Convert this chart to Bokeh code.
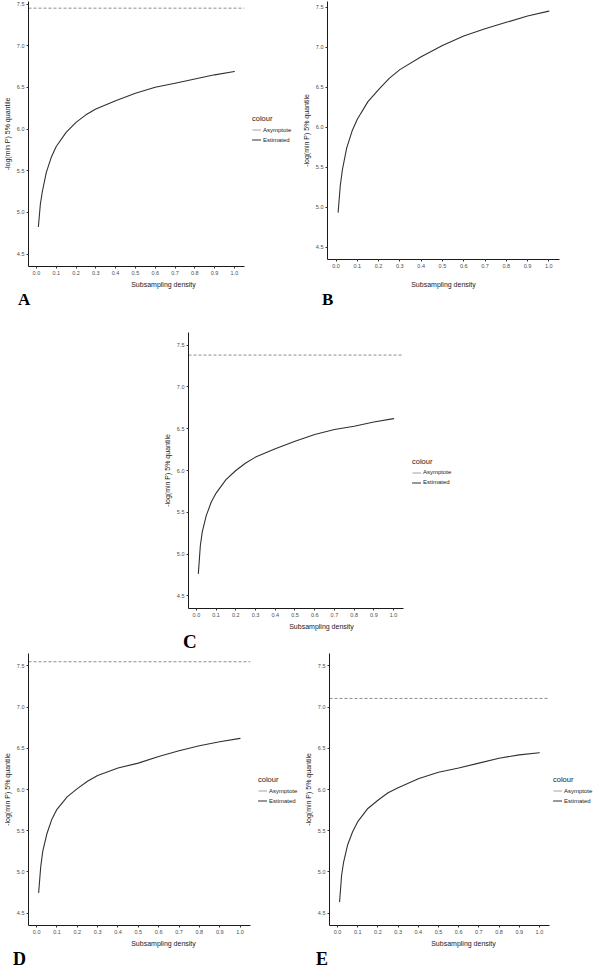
from bokeh.plotting import figure
from bokeh.models import (Range1d, FixedTicker, PrintfTickFormatter, Legend, LegendItem,
                          Div, Row, Column, Spacer)
from bokeh.embed import file_html
from bokeh.resources import INLINE

# ---------------- data ----------------
density = [0.01, 0.02, 0.03, 0.05, 0.075, 0.1, 0.15, 0.2, 0.25, 0.3,
           0.4, 0.5, 0.6, 0.7, 0.8, 0.9, 1.0]

estimated_A = [4.83, 5.10, 5.25, 5.48, 5.66, 5.79, 5.96, 6.08, 6.17, 6.24,
               6.34, 6.43, 6.50, 6.55, 6.60, 6.65, 6.69]
estimated_B = [4.94, 5.27, 5.47, 5.74, 5.95, 6.10, 6.32, 6.47, 6.61, 6.72,
               6.88, 7.02, 7.14, 7.23, 7.31, 7.39, 7.45]
estimated_C = [4.77, 5.10, 5.27, 5.46, 5.62, 5.73, 5.89, 6.00, 6.09, 6.16,
               6.26, 6.35, 6.43, 6.49, 6.53, 6.58, 6.62]
estimated_D = [4.75, 5.06, 5.25, 5.46, 5.64, 5.76, 5.91, 6.01, 6.10, 6.17,
               6.26, 6.32, 6.40, 6.47, 6.53, 6.58, 6.62]
estimated_E = [4.64, 4.96, 5.12, 5.33, 5.49, 5.61, 5.77, 5.87, 5.96, 6.02,
               6.13, 6.21, 6.26, 6.32, 6.38, 6.42, 6.445]

asymptote_A = 7.45
asymptote_B = None          # lies above the visible range
asymptote_C = 7.38
asymptote_D = 7.55
asymptote_E = 7.105

panel_letters = ["A", "B", "C", "D", "E"]
x_ticks = [0.0, 0.1, 0.2, 0.3, 0.4, 0.5, 0.6, 0.7, 0.8, 0.9, 1.0]
y_ticks = [4.5, 5.0, 5.5, 6.0, 6.5, 7.0, 7.5]
legend_title = "colour"
legend_labels = ["Asymptote", "Estimated"]
x_title = "Subsampling density"
y_title = "-log(min P) 5% quantile"

# ---------------- styling ----------------
EST_COLOR = "#303030"
ASY_COLOR = "#8c8c8c"
X_LO, X_HI = -0.04, 1.05   # axis limits (ggplot-like expansion)
Y_LO = 4.35
NAN = float("nan")


def make_panel(est, asym, width, height, left, axis_end, top, bottom_border,
               y_top, legend=True, xlabel_standoff=3, legend_gap=5, legend_dy=0):
    # with a legend the frame is widened to the figure's right edge (so the legend
    # is inside the frame) and the x axis line is limited to the data limits
    if legend:
        frame_right = width - 1
        x_end = X_LO + (frame_right - left) / (axis_end - left) * (X_HI - X_LO)
        mb_right = 1
    else:
        x_end = X_HI
        mb_right = width - axis_end
    p = figure(width=width, height=height, output_backend="svg", toolbar_location=None,
               title=None,
               x_range=Range1d(X_LO, x_end), y_range=Range1d(Y_LO, y_top),
               min_border_left=left, min_border_right=mb_right,
               min_border_top=top, min_border_bottom=bottom_border,
               background_fill_color="white", border_fill_color="white")
    p.outline_line_color = None
    p.xgrid.visible = False
    p.ygrid.visible = False

    for ax, ticks in ((p.xaxis[0], x_ticks), (p.yaxis[0], y_ticks)):
        ax.ticker = FixedTicker(ticks=ticks)
        ax.formatter = PrintfTickFormatter(format="%.1f")
        ax.major_label_text_font = "Liberation Sans"
        ax.major_label_text_font_size = "5.5px"
        ax.major_label_text_color = "#4d4d4d"
        ax.major_label_standoff = 2
        ax.major_tick_out = 2
        ax.major_tick_in = 0
        ax.minor_tick_out = 0
        ax.minor_tick_in = 0
        ax.axis_line_color = "#1a1a1a"
        ax.axis_line_width = 1
        ax.major_tick_line_color = "#333333"
        ax.axis_label_text_font = "Liberation Sans"
        ax.axis_label_text_font_size = "7px"
        ax.axis_label_text_font_style = "normal"
        ax.axis_label_text_color = "#1a1a1a"
    p.xaxis[0].axis_label = x_title
    p.xaxis[0].axis_label_standoff = xlabel_standoff
    p.xaxis[0].bounds = (X_LO, X_HI)
    p.yaxis[0].axis_label = y_title
    p.yaxis[0].axis_label_standoff = 3

    if asym is not None:
        p.segment(x0=[X_LO], x1=[X_HI], y0=[asym], y1=[asym], line_color=ASY_COLOR,
                  line_width=1, line_dash="3 2")

    r_est = p.line(density, est, line_color=EST_COLOR, line_width=1.1,
                   line_join="round", line_cap="round")

    if legend:
        # legend-only renderer for the (solid, thin) asymptote key
        r_key = p.line(x=[NAN], y=[NAN], line_color=ASY_COLOR, line_width=0.8)
        frame_h = height - top - bottom_border
        leg = Legend(items=[LegendItem(label=legend_labels[0], renderers=[r_key]),
                            LegendItem(label=legend_labels[1], renderers=[r_est])],
                     title=legend_title, orientation="vertical",
                     location=(axis_end - left + legend_gap, frame_h / 2 - 17 + legend_dy))
        leg.title_text_font = "Liberation Sans"
        leg.title_text_font_size = "7.5px"
        leg.title_text_font_style = "normal"
        leg.title_text_color = "#1a1a1a"
        leg.title_standoff = 2
        leg.label_text_font = "Liberation Sans"
        leg.label_text_font_size = "6px"
        leg.label_text_color = "#1a1a1a"
        leg.glyph_width = 9
        leg.glyph_height = 9
        leg.label_height = 9
        leg.label_standoff = 2
        leg.spacing = 1
        leg.padding = 2
        leg.margin = 0
        leg.border_line_color = None
        leg.background_fill_alpha = 0
        p.add_layout(leg, "center")
    return p


def make_letter(letter, width, height, pad_left, size):
    return Div(text=letter, width=width, height=height, margin=0,
               styles={"font-family": "'Liberation Serif', serif", "font-weight": "bold",
                       "font-size": size, "line-height": f"{height}px",
                       "padding-left": f"{pad_left}px", "color": "black",
                       "box-sizing": "border-box", "overflow": "hidden"})


# row 1 : A | B
pA = make_panel(estimated_A, asymptote_A, 299, 290, 24, 243, 1, 23, 7.53, legend_dy=6)
pB = make_panel(estimated_B, asymptote_B, 299, 290, 24, 260, 1, 30, 7.57,
                legend=False, xlabel_standoff=10)
lA = make_letter(panel_letters[0], 299, 20, 18, "17px")
lB = make_letter(panel_letters[1], 299, 20, 23, "17px")

# row 2 : centred C
pC = make_panel(estimated_C, asymptote_C, 295, 322, 23, 242, 22, 23, 7.65)
lC = make_letter(panel_letters[2], 295, 20, 23, "19px")

# row 3 : D | E
pD = make_panel(estimated_D, asymptote_D, 299, 297, 24, 249, 1, 22, 7.65)
pE = make_panel(estimated_E, asymptote_E, 299, 297, 30, 250, 1, 22, 7.65, legend_gap=4)
lD = make_letter(panel_letters[3], 299, 20, 13, "18px")
lE = make_letter(panel_letters[4], 299, 20, 17, "18px")

layout = Column(children=[
    Row(children=[Column(children=[pA, lA], spacing=0),
                  Column(children=[pB, lB], spacing=0)], spacing=0),
    Row(children=[Spacer(width=160, height=342),
                  Column(children=[pC, lC], spacing=0)], spacing=0),
    Row(children=[Column(children=[pD, lD], spacing=0),
                  Column(children=[pE, lE], spacing=0)], spacing=0),
], spacing=0)

open("out.html", "w").write(file_html(layout, INLINE))
